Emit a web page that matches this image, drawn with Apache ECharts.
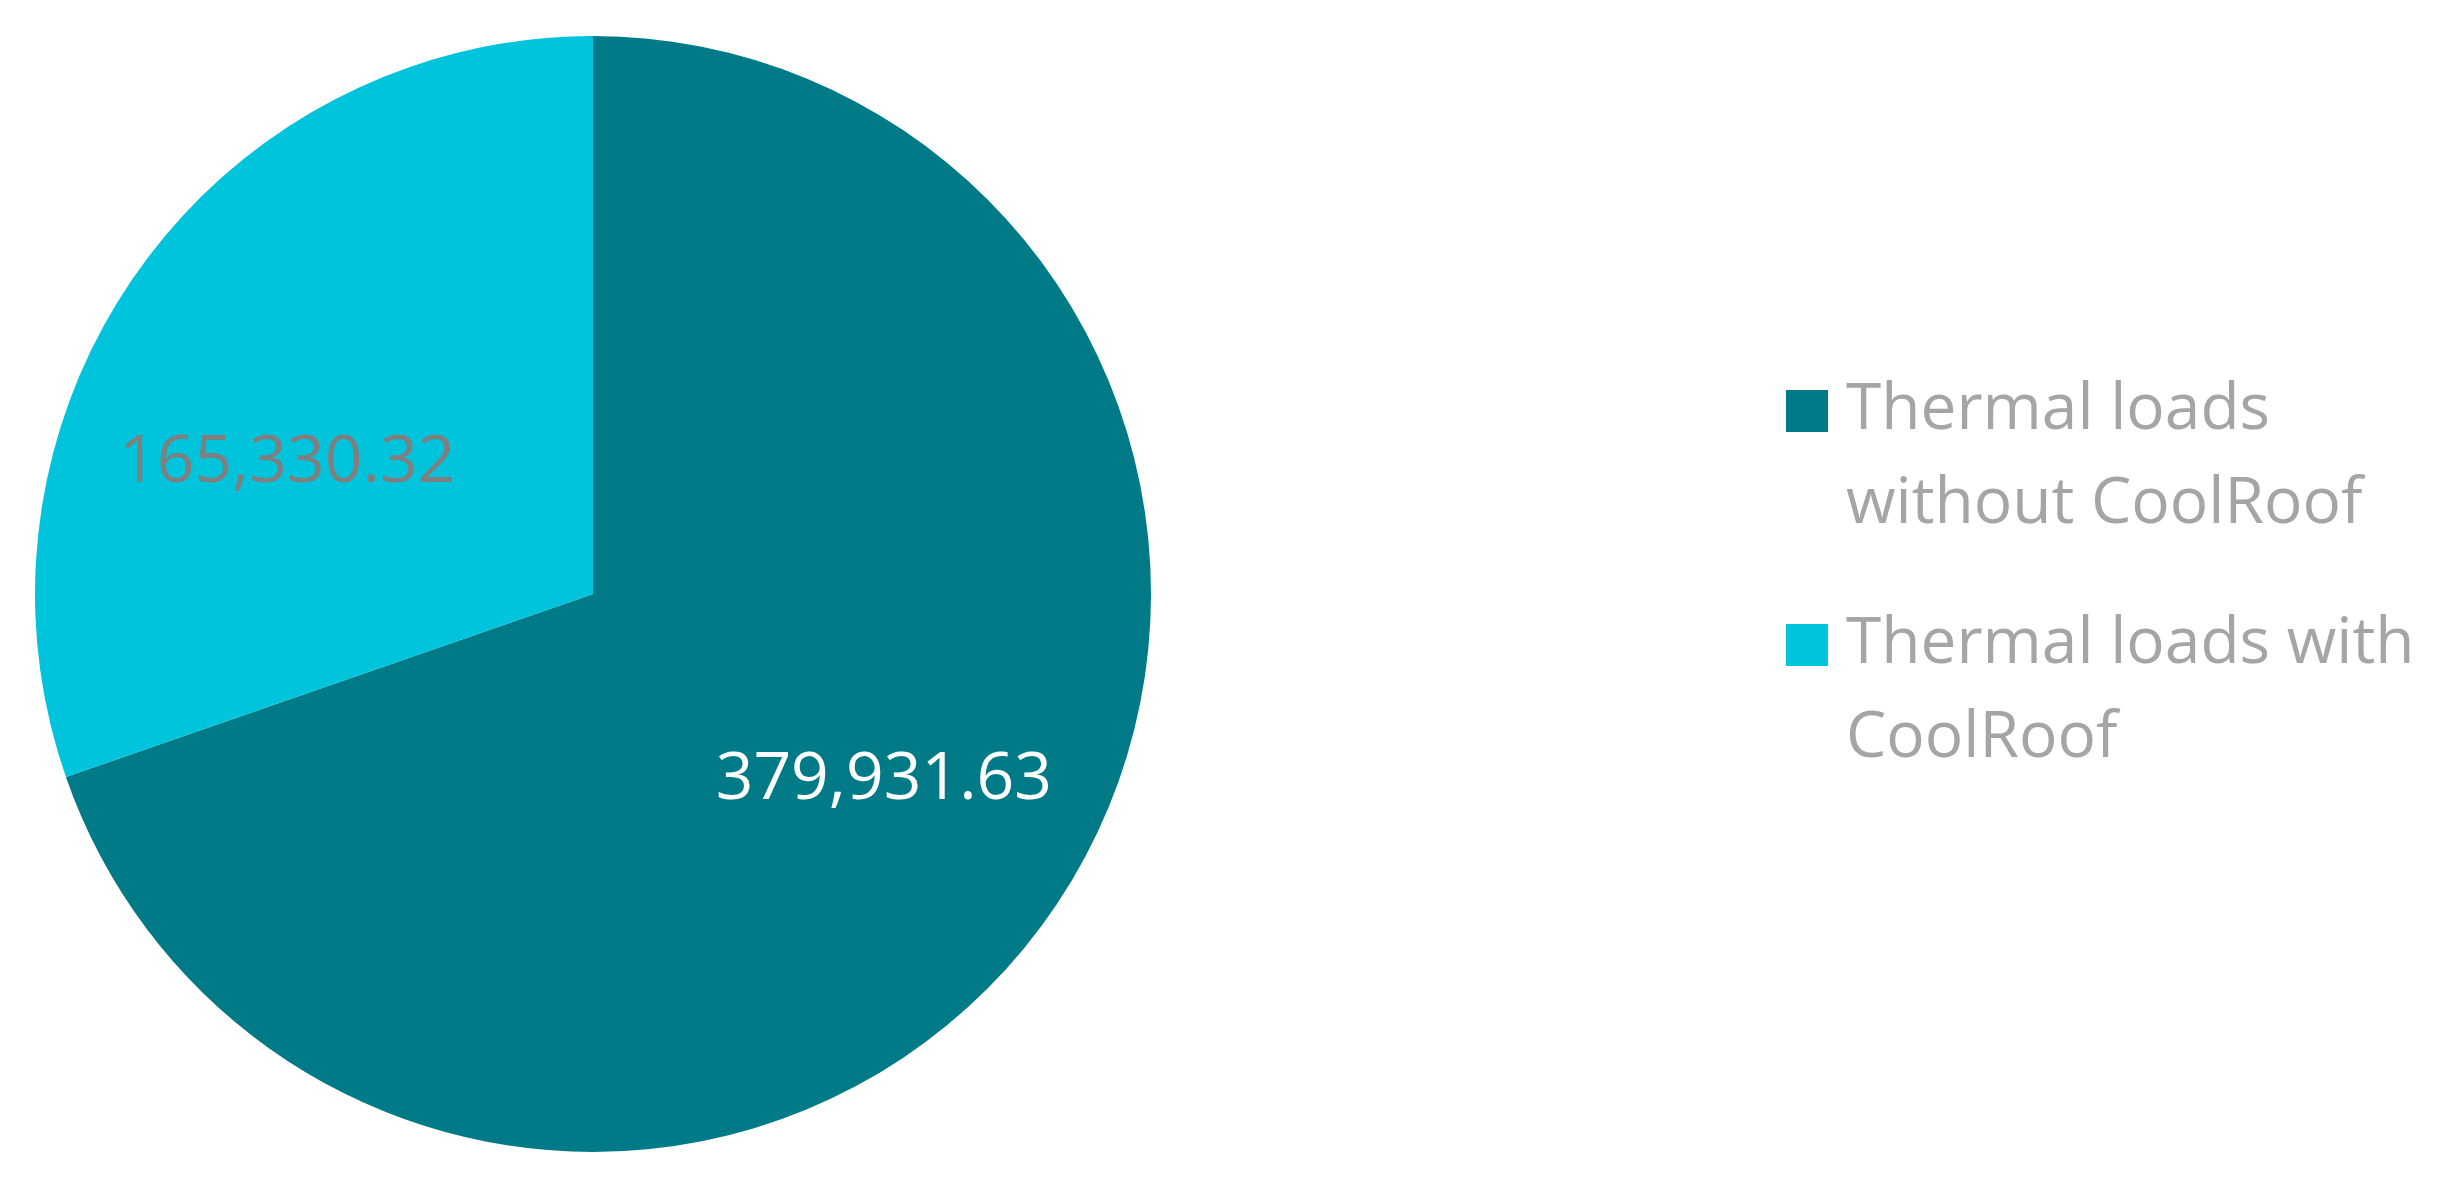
<!DOCTYPE html>
<html>
<head>
<meta charset="utf-8">
<title>Thermal loads</title>
<script src="https://cdn.jsdelivr.net/npm/echarts@6/dist/echarts.min.js"></script>
<style>
  html, body { margin: 0; padding: 0; background: #fff; }
  #chart { width: 2448px; height: 1182px; }
</style>
</head>
<body>
<div id="chart"></div>
<script>
// data
const categories = ['Thermal loads without CoolRoof', 'Thermal loads with CoolRoof']
const values = [379931.63, 165330.32]
const colors = ['#007a87', '#00c4dc']
const labelColors = ['#ffffff', '#7f7f7f']
// legend text broken the way the original wraps it
const legendLines = {
  'Thermal loads without CoolRoof': 'Thermal loads\nwithout CoolRoof',
  'Thermal loads with CoolRoof': 'Thermal loads with\nCoolRoof'
}
// label nudges away from the slice middle (Excel best-fit style)
const labelOffsets = [[61, 23], [-76, 33]]

const fmt = v => v.toLocaleString('en-US', { minimumFractionDigits: 2, maximumFractionDigits: 2 })

const legendStyle = {
  fontFamily: 'Open Sans',
  fontSize: 64,
  lineHeight: 94,
  color: '#a5a5a5',
  padding: [0, 0, 0, 13]
}

function makeLegend(name, top) {
  return {
    data: [name],
    orient: 'vertical',
    left: 1781,
    top: top,
    itemWidth: 42,
    itemHeight: 42,
    icon: 'rect',
    selectedMode: false,
    // empty first line keeps the square level with the first text line
    formatter: n => '\n' + legendLines[n],
    textStyle: legendStyle
  }
}

const chart = echarts.init(document.getElementById('chart'))
chart.setOption({
  animation: false,
  color: colors,
  legend: [
    makeLegend(categories[0], 265),
    makeLegend(categories[1], 499)
  ],
  series: [{
    type: 'pie',
    center: [593, 594],
    radius: 558,
    startAngle: 90,
    clockwise: true,
    avoidLabelOverlap: false,
    label: {
      show: true,
      position: 'inside',
      fontFamily: 'Open Sans',
      fontSize: 66,
      formatter: p => fmt(p.value)
    },
    labelLine: { show: false },
    emphasis: { disabled: true },
    itemStyle: { borderWidth: 0 },
    data: categories.map((c, i) => ({
      name: c,
      value: values[i],
      label: { color: labelColors[i], offset: labelOffsets[i] }
    }))
  }]
})
</script>
</body>
</html>
